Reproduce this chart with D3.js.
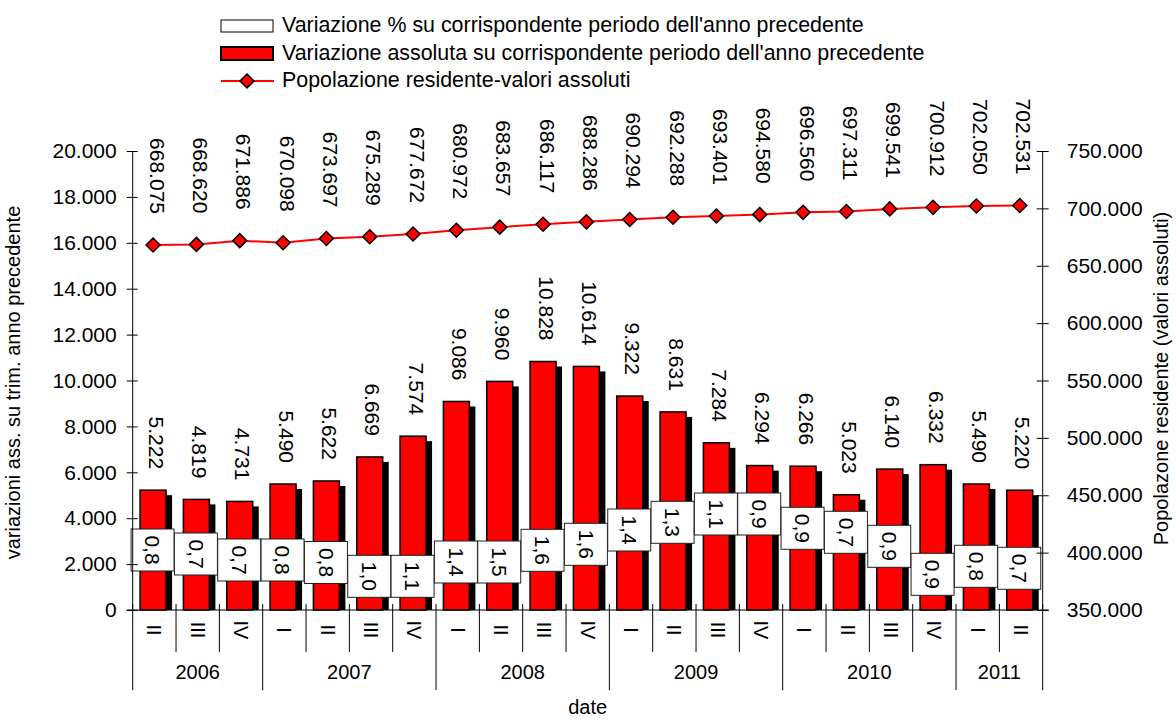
<!DOCTYPE html>
<html>
<head>
<meta charset="utf-8">
<script src="https://cdn.jsdelivr.net/npm/d3@7"></script>
<style>
  body { margin: 0; background: #fff; }
  text { font-family: "Liberation Sans", Arial, sans-serif; fill: #000; }
</style>
</head>
<body>
<script>
// categories: quarters and the years they belong to
var quarters = ["II","III","IV","I","II","III","IV","I","II","III","IV","I","II","III","IV","I","II","III","IV","I","II"];
var years = ["2006","2007","2008","2009","2010","2011"];
var quartersPerYear = [3, 4, 4, 4, 4, 2];

// series
var absVariation = [5222,4819,4731,5490,5622,6669,7574,9086,9960,10828,10614,9322,8631,7284,6294,6266,5023,6140,6332,5490,5220];
var pctVariation = [0.8,0.7,0.7,0.8,0.8,1.0,1.1,1.4,1.5,1.6,1.6,1.4,1.3,1.1,0.9,0.9,0.7,0.9,0.9,0.8,0.7];
var population = [668075,668620,671886,670098,673697,675289,677672,680972,683657,686117,688286,690294,692288,693401,694580,696560,697311,699541,700912,702050,702531];

// where the % label boxes sit (left axis units)
var pctLabelAt = [2614,2440,2179,2179,2070,1468,1468,2092,2092,2601,2863,3486,3821,4183,4183,3560,3386,2775,1555,1904,1817];

var leftTicks = d3.range(0, 20001, 2000);
var rightTicks = d3.range(350000, 750001, 50000);

var legendLabels = [
    "Variazione % su corrispondente periodo dell'anno precedente",
    "Variazione assoluta su corrispondente periodo dell'anno precedente",
    "Popolazione residente-valori assoluti"
];

(function(){

    var it = d3.formatLocale({decimal: ",", thousands: ".", grouping: [3], currency: ["", "€"]});
    var fmtInt = it.format(",d"),
        fmtPct = it.format(".1f");

    //frame
    var width = 1176, height = 720,
        plotLeft = 132.7, plotRight = 1042.7, plotTop = 151, plotBottom = 610;

    var svg = d3.select("body").append("svg")
        .attr("width", width)
        .attr("height", height);

    var x = d3.scaleBand()
        .domain(d3.range(quarters.length))
        .range([plotLeft, plotRight])
        .padding(0);

    var yLeft = d3.scaleLinear().domain([0, 20000]).range([plotBottom, plotTop]);
    var yRight = d3.scaleLinear().domain([350000, 750000]).range([plotBottom, plotTop]);

    var barW = 26, shadow = 6;
    function cx(i){ return x(i) + x.bandwidth() / 2 - 1.3; }

    // bars with drop shadow
    var bars = svg.append("g");
    bars.selectAll(".shadow")
        .data(absVariation)
        .enter().append("rect")
        .attr("x", function(d, i){ return cx(i) - barW / 2 + shadow; })
        .attr("y", function(d){ return yLeft(d) + 5; })
        .attr("width", barW)
        .attr("height", function(d){ return plotBottom - yLeft(d) - 5; })
        .style("fill", "#000");
    bars.selectAll(".bar")
        .data(absVariation)
        .enter().append("rect")
        .attr("x", function(d, i){ return cx(i) - barW / 2; })
        .attr("y", function(d){ return yLeft(d); })
        .attr("width", barW)
        .attr("height", function(d){ return plotBottom - yLeft(d); })
        .style("fill", "#ff0000")
        .style("stroke", "#000")
        .style("stroke-width", 1.5);

    // bar value labels
    svg.selectAll(".barLabel")
        .data(absVariation)
        .enter().append("text")
        .attr("transform", function(d, i){
            return "translate(" + (cx(i) + 3) + "," + (yLeft(d) - 21) + ") rotate(90)";
        })
        .attr("text-anchor", "end")
        .attr("dy", "0.35em")
        .style("font-size", "21px")
        .text(function(d){ return fmtInt(d); });

    // % label boxes
    var boxes = svg.selectAll(".pct")
        .data(pctVariation)
        .enter().append("g")
        .attr("transform", function(d, i){
            return "translate(" + (cx(i) - 0.5) + "," + yLeft(pctLabelAt[i]) + ")";
        });
    boxes.append("rect")
        .attr("x", -21.5).attr("y", -21)
        .attr("width", 43).attr("height", 42)
        .style("fill", "#fff")
        .style("stroke", "#222")
        .style("stroke-width", 1);
    boxes.append("text")
        .attr("transform", "rotate(90)")
        .attr("text-anchor", "middle")
        .attr("dy", "0.35em")
        .style("font-size", "21px")
        .text(function(d){ return fmtPct(d); });

    // population line
    var line = d3.line()
        .x(function(d, i){ return cx(i); })
        .y(function(d){ return yRight(d); });
    svg.append("path")
        .datum(population)
        .attr("d", line)
        .style("fill", "none")
        .style("stroke", "#ff0000")
        .style("stroke-width", 2);
    svg.selectAll(".pt")
        .data(population)
        .enter().append("path")
        .attr("d", "M0,-7L7,0L0,7L-7,0Z")
        .attr("transform", function(d, i){ return "translate(" + cx(i) + "," + yRight(d) + ")"; })
        .style("fill", "#ff0000")
        .style("stroke", "#000")
        .style("stroke-width", 1.5);
    svg.selectAll(".popLabel")
        .data(population)
        .enter().append("text")
        .attr("transform", function(d, i){
            return "translate(" + (cx(i) + 4) + "," + (yRight(d) - 31) + ") rotate(90)";
        })
        .attr("text-anchor", "end")
        .attr("dy", "0.35em")
        .style("font-size", "21px")
        .text(function(d){ return fmtInt(d); });

    // left axis
    var axisL = svg.append("g").attr("transform", "translate(" + plotLeft + ",0)")
        .call(d3.axisLeft(yLeft).tickValues(leftTicks).tickFormat(fmtInt).tickSize(6).tickPadding(10));
    axisL.selectAll(".tick line").attr("x2", -6).attr("x1", 5);
    // right axis
    var axisR = svg.append("g").attr("transform", "translate(" + plotRight + ",0)")
        .call(d3.axisRight(yRight).tickValues(rightTicks).tickFormat(fmtInt).tickSize(6).tickPadding(18));
    axisR.selectAll(".tick line").attr("x2", 6).attr("x1", -6);
    [axisL, axisR].forEach(function(a){
        a.select(".domain").remove();
        a.selectAll("text").style("font-size", "21px").attr("fill", "#000");
        a.selectAll("line").attr("stroke", "#000");
    });
    svg.append("line").attr("x1", plotLeft).attr("x2", plotLeft).attr("y1", plotTop).attr("y2", plotBottom).style("stroke", "#000");
    svg.append("line").attr("x1", plotRight).attr("x2", plotRight).attr("y1", plotTop).attr("y2", plotBottom).style("stroke", "#000");

    // category axis
    svg.append("line").attr("x1", plotLeft - 6).attr("x2", plotRight + 6).attr("y1", plotBottom).attr("y2", plotBottom).style("stroke", "#000");
    var yearStarts = [0];
    quartersPerYear.forEach(function(n, k){ yearStarts.push(yearStarts[k] + n); });
    d3.range(quarters.length + 1).forEach(function(i){
        var xx = i < quarters.length ? x(i) : plotRight;
        var isYear = yearStarts.indexOf(i) >= 0;
        svg.append("line")
            .attr("x1", xx).attr("x2", xx)
            .attr("y1", plotBottom - 6).attr("y2", isYear ? 690 : 652)
            .style("stroke", "#000").style("stroke-width", 1);
    });
    svg.selectAll(".qLabel")
        .data(quarters)
        .enter().append("text")
        .attr("transform", function(d, i){ return "translate(" + (x(i) + x.bandwidth() / 2) + ",630) rotate(90)"; })
        .attr("text-anchor", "middle")
        .attr("dy", "0.35em")
        .style("font-size", "20px")
        .text(function(d){ return d; });
    svg.selectAll(".yLabel")
        .data(years)
        .enter().append("text")
        .attr("x", function(d, k){
            var a = x(yearStarts[k]), b = yearStarts[k + 1] < quarters.length ? x(yearStarts[k + 1]) : plotRight;
            return (a + b) / 2;
        })
        .attr("y", 679)
        .attr("text-anchor", "middle")
        .style("font-size", "20px")
        .text(function(d){ return d; });

    // axis titles
    svg.append("text")
        .attr("x", (plotLeft + plotRight) / 2).attr("y", 714)
        .attr("text-anchor", "middle")
        .style("font-size", "20px")
        .text("date");
    svg.append("text")
        .attr("transform", "translate(13," + ((plotTop + plotBottom) / 2 + 2) + ") rotate(-90)")
        .attr("text-anchor", "middle")
        .attr("dy", "0.35em")
        .style("font-size", "20px")
        .text("variazioni ass. su trim. anno precedente");
    svg.append("text")
        .attr("transform", "translate(1161," + ((plotTop + plotBottom) / 2 - 2) + ") rotate(-90)")
        .attr("text-anchor", "middle")
        .attr("dy", "0.35em")
        .style("font-size", "20px")
        .text("Popolazone residente (valori assoluti)");

    // legend
    var legend = svg.append("g").attr("transform", "translate(221,0)");
    legend.append("rect").attr("x", 0).attr("y", 20).attr("width", 52).attr("height", 12)
        .style("fill", "#fff").style("stroke", "#000").style("stroke-width", 1);
    legend.append("rect").attr("x", 0).attr("y", 47).attr("width", 52).attr("height", 13)
        .style("fill", "#ff0000").style("stroke", "#000").style("stroke-width", 2);
    legend.append("line").attr("x1", 0).attr("x2", 53).attr("y1", 81).attr("y2", 81)
        .style("stroke", "#ff0000").style("stroke-width", 2);
    legend.append("path").attr("d", "M0,-7L7,0L0,7L-7,0Z").attr("transform", "translate(26,81)")
        .style("fill", "#ff0000").style("stroke", "#000").style("stroke-width", 1.5);
    legend.selectAll(".lt")
        .data(legendLabels)
        .enter().append("text")
        .attr("x", 61)
        .attr("y", function(d, i){ return 32 + i * 27.5; })
        .style("font-size", "21.4px")
        .text(function(d){ return d; });

})();
</script>
</body>
</html>
